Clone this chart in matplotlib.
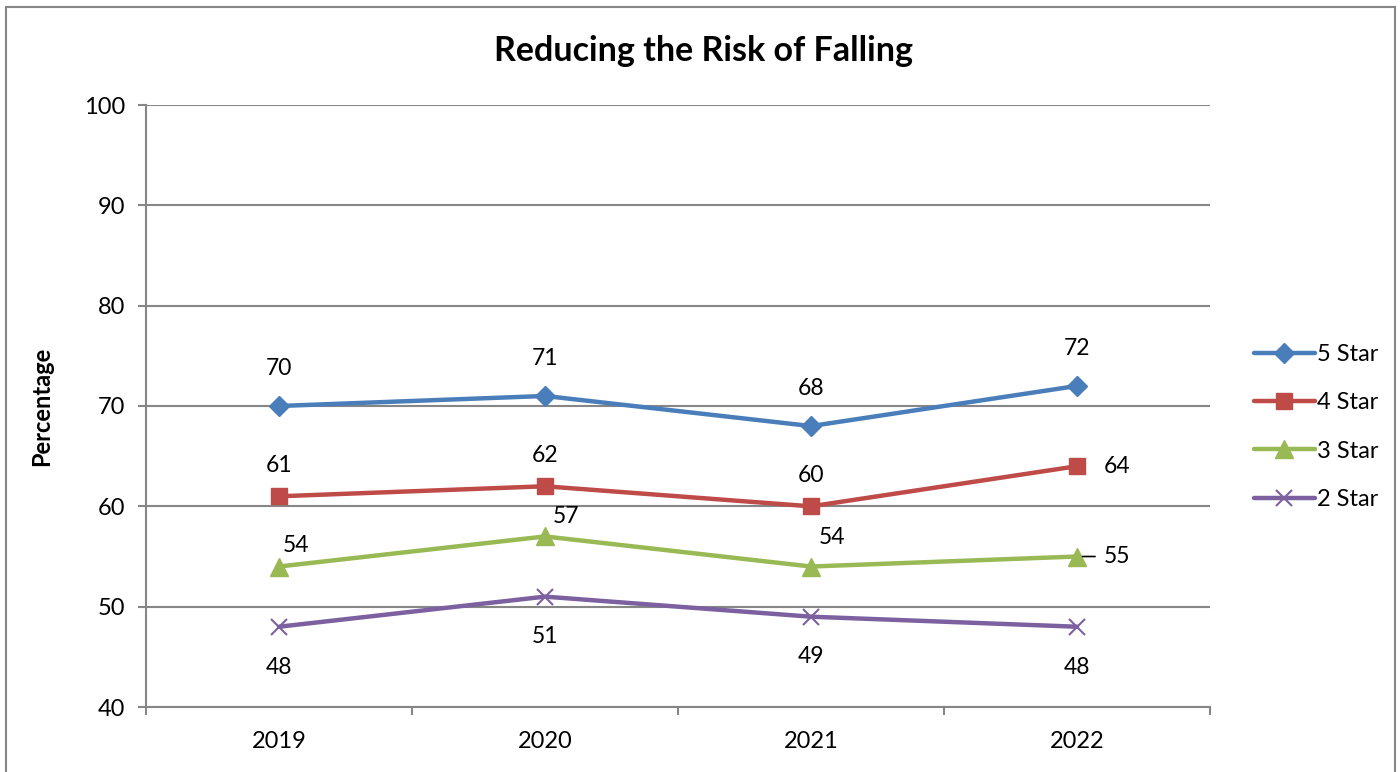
import matplotlib
matplotlib.use("Agg")
import matplotlib.pyplot as plt
from matplotlib.patches import Rectangle

years = ["2019", "2020", "2021", "2022"]
star5 = [70, 71, 68, 72]
star4 = [61, 62, 60, 64]
star3 = [54, 57, 54, 55]
star2 = [48, 51, 49, 48]

plt.rcParams["font.family"] = ["Lato", "DejaVu Sans"]
GRID = "#868686"

fig = plt.figure(figsize=(14, 7.72), dpi=100)
ax = fig.add_axes([146 / 1400, 1 - 707 / 772, (1210 - 146) / 1400, (707 - 105) / 772])

# outer chart border
fig.add_artist(Rectangle((6 / 1400, -0.01), 1389 / 1400, 1 - 7 / 772 + 0.01,
                         transform=fig.transFigure, fill=False, edgecolor=GRID, lw=1.5))

x = range(len(years))
series = [
    ("5 Star", star5, "#4A7EBB", "D", 10),
    ("4 Star", star4, "#BE4B48", "s", 12),
    ("3 Star", star3, "#98B954", "^", 13),
    ("2 Star", star2, "#7D60A0", "x", 11),
]
for name, vals, col, mk, ms in series:
    ax.plot(x, vals, color=col, lw=3.2, marker=mk, ms=ms, mew=1.5 if mk == "x" else 1,
            mec=col, label=name, solid_capstyle="round")

lbl = dict(fontsize=16.5, ha="center", va="center", textcoords="offset points")
for i, v in enumerate(star5):
    ax.annotate(str(v), (i, v), xytext=(0, 27), **lbl)
for i, v in enumerate(star4):
    if i == 3:
        ax.annotate(str(v), (i, v), xytext=(29, 0), **lbl)
    else:
        ax.annotate(str(v), (i, v), xytext=(0, 22), **lbl)
offs3 = [(12, 15), (15, 14), (15, 21), (29, 0)]
for i, v in enumerate(star3):
    ax.annotate(str(v), (i, v), xytext=offs3[i], **lbl)
ax.annotate("", (3, star3[3]), xytext=(13, 0), textcoords="offset points",
            arrowprops=dict(arrowstyle="-", color="black", lw=1.2,
                            shrinkA=0, shrinkB=4))
for i, v in enumerate(star2):
    ax.annotate(str(v), (i, v), xytext=(0, -29), **lbl)

ax.set_xlim(-0.5, 3.5)
ax.set_ylim(40, 100)
ax.set_yticks(range(40, 101, 10))
ax.set_xticks(list(x))
ax.set_xticklabels(years)
ax.set_xticks([-0.5, 0.5, 1.5, 2.5, 3.5], minor=True)
ax.tick_params(axis="x", which="major", length=0, pad=17, labelsize=17)
ax.tick_params(axis="x", which="minor", length=6, width=1.5, color=GRID, direction="out")
ax.tick_params(axis="y", length=6, width=1.5, color=GRID, direction="out", pad=9, labelsize=17)
ax.yaxis.grid(True, color=GRID, lw=1.5)
ax.set_axisbelow(True)
for s in ["top", "right"]:
    ax.spines[s].set_visible(False)
for s in ["left", "bottom"]:
    ax.spines[s].set_color(GRID)
    ax.spines[s].set_linewidth(1.5)

ax.set_ylabel("Percentage", fontsize=17, fontweight="bold", labelpad=22)
fig.text(703 / 1400, 1 - 51 / 772, "Reducing the Risk of Falling", fontsize=24.5,
         fontweight="bold", ha="center", va="center")

ax.legend(loc="center left", bbox_to_anchor=(1.021, 0.465), frameon=False, fontsize=17,
          handlelength=2.6, handletextpad=0.1, labelspacing=1.15)

fig.savefig("out.png", dpi=100)
